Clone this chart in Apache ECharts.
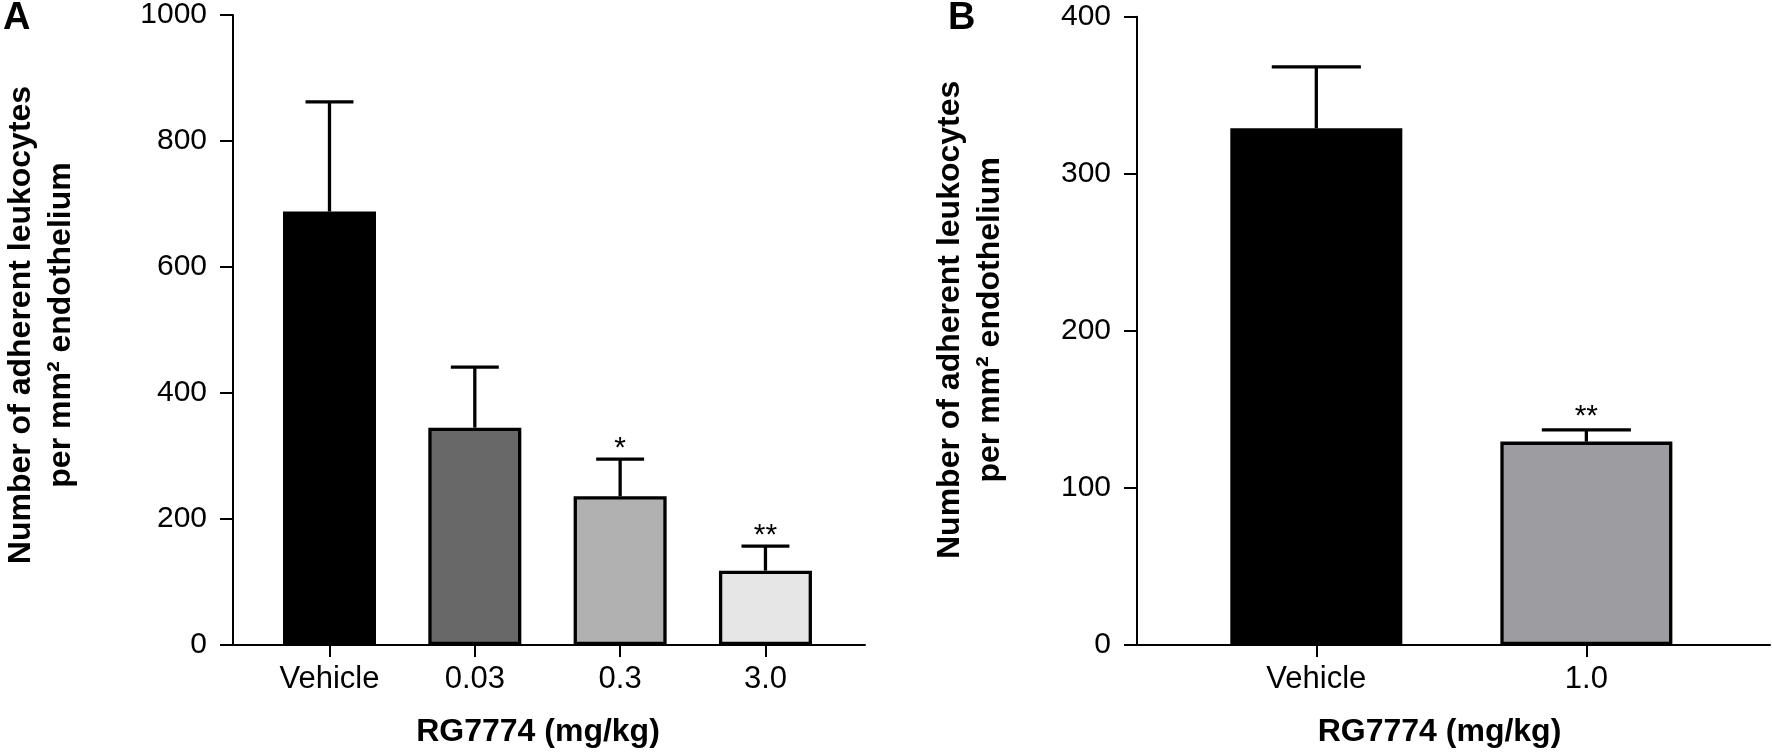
<!DOCTYPE html>
<html>
<head>
<meta charset="utf-8">
<script src="https://cdn.jsdelivr.net/npm/echarts@6/dist/echarts.min.js"></script>
<style>
html,body{margin:0;padding:0;background:#fff;}
#chart{width:1772px;height:753px;}
</style>
</head>
<body>
<div id="chart"></div>
<script>
// ---- Data ----
const catsA = ['Vehicle', '0.03', '0.3', '3.0'];
const meanA = [688, 345, 236, 118];
const semA = [174, 96, 59, 39];
const sigA = ['', '', '*', '**'];
const colorsA = ['#000000', '#686868', '#b1b1b1', '#e6e6e6'];

const catsB = ['Vehicle', '1.0'];
const meanB = [329, 129.5];
const semB = [39, 7.5];
const sigB = ['', '**'];
const colorsB = ['#000000', '#9d9da1'];

const yTicksA = { min: 0, max: 1000, interval: 200 };
const yTicksB = { min: 0, max: 400, interval: 100 };

const yTitle = 'Number of adherent leukocytes\nper mm\u00b2 endothelium';
const xTitle = 'RG7774 (mg/kg)';

const FONT = '"Liberation Sans", Arial, Helvetica, sans-serif';

const chart = echarts.init(document.getElementById('chart'), null, { renderer: 'canvas' });

function xAxisFor(cats, gridIndex, max, namePad) {
  const idx = cats.map((c, i) => i);
  return {
    type: 'value', gridIndex: gridIndex, min: -0.664, max: max,
    axisLine: { show: true, onZero: false, lineStyle: { color: '#000', width: 2 } },
    axisTick: { show: true, customValues: idx, length: 12, lineStyle: { color: '#000', width: 2 } },
    axisLabel: { customValues: idx, formatter: v => cats[Math.round(v)] || '', color: '#000',
      fontSize: 31, fontFamily: FONT, margin: 19 },
    splitLine: { show: false },
    name: xTitle, nameLocation: 'middle', nameGap: 71,
    nameTextStyle: { fontSize: 32, fontWeight: 'bold', color: '#000', fontFamily: FONT, padding: namePad }
  };
}
function yAxisFor(t, gridIndex, gap, namePad) {
  return {
    type: 'value', gridIndex: gridIndex, min: t.min, max: t.max, interval: t.interval,
    axisLine: { show: true, onZero: false, lineStyle: { color: '#000', width: 2 } },
    axisTick: { show: true, length: 13, lineStyle: { color: '#000', width: 2 } },
    axisLabel: { color: '#000', fontSize: 30, fontFamily: FONT, margin: 26, formatter: v => String(v) },
    splitLine: { show: false },
    name: yTitle, nameLocation: 'middle', nameGap: gap, nameRotate: 90,
    nameTextStyle: { fontSize: 32, fontWeight: 'bold', color: '#000', fontFamily: FONT,
      lineHeight: 40, align: 'center', padding: namePad }
  };
}
function barData(means, colors) {
  return means.map((v, i) => ({ value: [i, v], itemStyle: { color: colors[i] } }));
}
function errRender(sigs, off) {
  return function (params, api) {
    const x = api.value(0), m = api.value(1), e = api.value(2);
    const base = api.coord([x, m]);
    const top = api.coord([x, m + e]);
    const half = api.size([1, 0])[0] * 0.165;
    return {
      type: 'group',
      children: [
        { type: 'line', shape: { x1: base[0], y1: base[1], x2: top[0], y2: top[1] },
          style: { stroke: '#000', lineWidth: 3.3 } },
        { type: 'line', shape: { x1: top[0] - half, y1: top[1], x2: top[0] + half, y2: top[1] },
          style: { stroke: '#000', lineWidth: 3.3 } },
        { type: 'text', style: { text: sigs[params.dataIndex], x: top[0], y: top[1] - off,
          align: 'center', verticalAlign: 'middle', fontSize: 30, fontFamily: FONT, fill: '#000' } }
      ]
    };
  };
}

const option = {
  backgroundColor: '#fff',
  animation: false,
  title: [
    { text: 'A', left: 3, top: 0, padding: 0, textStyle: { fontSize: 38, fontWeight: 'bold', color: '#000', fontFamily: FONT } },
    { text: 'B', left: 948, top: 0, padding: 0, textStyle: { fontSize: 38, fontWeight: 'bold', color: '#000', fontFamily: FONT } }
  ],
  grid: [
    { left: 230, top: 12, width: 635, height: 633 },
    { left: 1137, top: 16.7, width: 633, height: 629.3 }
  ],
  xAxis: [
    xAxisFor(catsA, 0, 3.685, [0, 22, 0, 0]),
    xAxisFor(catsB, 1, 1.68, [0, 28, 0, 0])
  ],
  yAxis: [
    yAxisFor(yTicksA, 0, 152, [0, 0, 0, 10]),
    yAxisFor(yTicksB, 1, 127, [0, 0, 0, 22])
  ],
  series: [
    { type: 'bar', xAxisIndex: 0, yAxisIndex: 0, barWidth: 93, data: barData(meanA, colorsA),
      itemStyle: { borderColor: '#000', borderWidth: 3.3 } },
    { type: 'custom', xAxisIndex: 0, yAxisIndex: 0, z: 5, renderItem: errRender(sigA, 10),
      data: meanA.map((v, i) => [i, v, semA[i]]) },
    { type: 'bar', xAxisIndex: 1, yAxisIndex: 1, barWidth: 172, data: barData(meanB, colorsB),
      itemStyle: { borderColor: '#000', borderWidth: 3.3 } },
    { type: 'custom', xAxisIndex: 1, yAxisIndex: 1, z: 5, renderItem: errRender(sigB, 13),
      data: meanB.map((v, i) => [i, v, semB[i]]) }
  ]
};
chart.setOption(option);
</script>
</body>
</html>
